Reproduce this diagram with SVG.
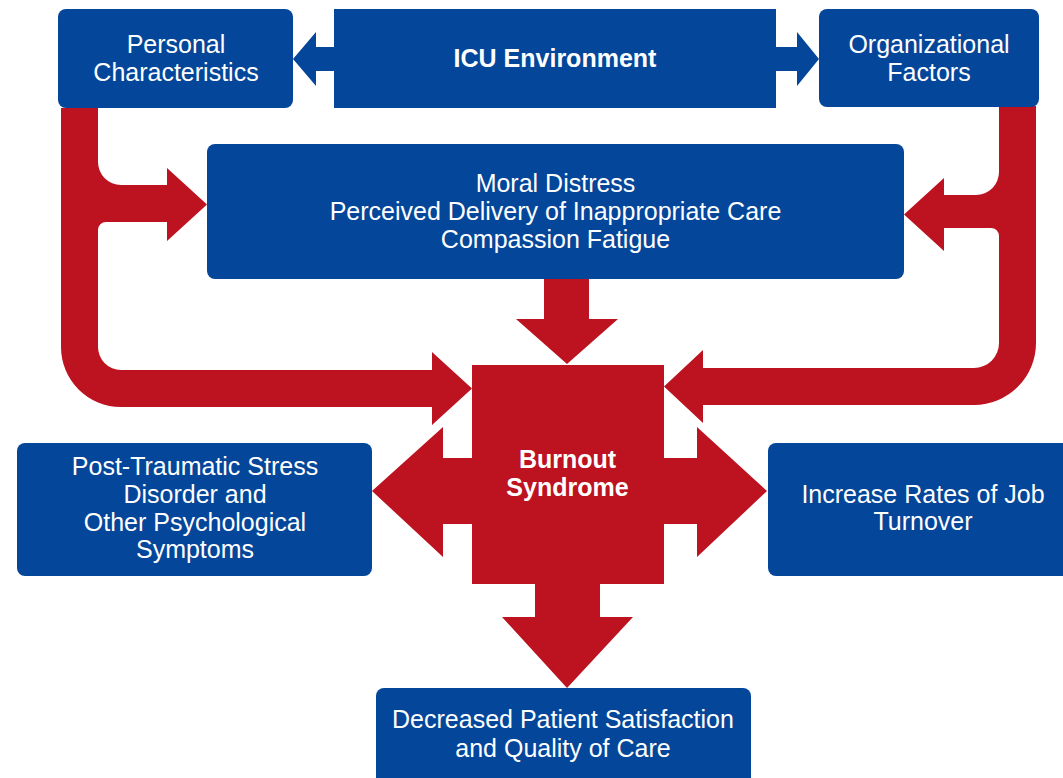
<svg xmlns="http://www.w3.org/2000/svg" width="1063" height="778" viewBox="0 0 1063 778">
<style>
.box{fill:#03469A}
.red{fill:#BD1220}
.t{font-family:"Liberation Sans",Arial,sans-serif;font-size:25px;fill:#FFFFFF;text-anchor:middle}
.b{font-weight:bold}
</style>
<rect width="1063" height="778" fill="#FFFFFF"/>
<g id="connectors">
<polygon class="box" points="334,47 316,47 316,32 293,59 316,86 316,71 334,71"/>
<polygon class="box" points="776,47 797,47 797,32 819,59 797,86 797,71 776,71"/>
<path class="red" d="M61,108 L61,347 A60,60 0 0 0 121,407 L432,407 L432,425 L472,388.5 L432,352 L432,370 L121,370 A23,23 0 0 1 98,347 L98,230 A8,8 0 0 1 106,222 L167,222 L167,241 L207,204.5 L167,168 L167,185 L121,185 A23,23 0 0 1 98,162 L98,108 Z"/>
<path class="red" d="M1036,106 L1036,343 A62,62 0 0 1 974,405 L703,405 L703,423 L664,386.5 L703,350 L703,368 L974,368 A25,25 0 0 0 999,343 L999,236 A8,8 0 0 0 991,228 L944,228 L944,251 L904,214.5 L944,178 L944,195 L976,195 A23,23 0 0 0 999,172 L999,106 Z"/>
<polygon class="red" points="544,279 589,279 589,319 618,319 567,364 516,319 544,319"/>
<polygon class="red" points="472,458 443,458 443,427 372,491 443,557 443,524 472,524"/>
<polygon class="red" points="664,458 697,458 697,427 767,491 697,557 697,524 664,524"/>
<polygon class="red" points="535,584 535,617 502,617 567,688 633,617 600,617 600,584"/>
</g>
<g id="personal">
<rect class="box" x="58" y="9" width="235" height="99" rx="8"/>
<text class="t" x="176" y="53">Personal</text>
<text class="t" x="176" y="81">Characteristics</text>
</g>
<g id="icu">
<rect class="box" x="334" y="9" width="442" height="99"/>
<text class="t b" x="555" y="67">ICU Environment</text>
</g>
<g id="organizational">
<rect class="box" x="819" y="9" width="220" height="98" rx="8"/>
<text class="t" x="929" y="53">Organizational</text>
<text class="t" x="929" y="81">Factors</text>
</g>
<g id="moral">
<rect class="box" x="207" y="144" width="697" height="135" rx="8"/>
<text class="t" x="555.5" y="192">Moral Distress</text>
<text class="t" x="555.5" y="220">Perceived Delivery of Inappropriate Care</text>
<text class="t" x="555.5" y="248">Compassion Fatigue</text>
</g>
<g id="burnout">
<rect class="red" x="472" y="365" width="192" height="219"/>
<text class="t b" x="567.5" y="468">Burnout</text>
<text class="t b" x="567.5" y="496">Syndrome</text>
</g>
<g id="ptsd">
<rect class="box" x="17" y="443" width="355" height="133" rx="8"/>
<text class="t" x="195" y="475">Post-Traumatic Stress</text>
<text class="t" x="195" y="503">Disorder and</text>
<text class="t" x="195" y="531">Other Psychological</text>
<text class="t" x="195" y="558">Symptoms</text>
</g>
<g id="turnover">
<rect class="box" x="768" y="443" width="312" height="133" rx="8"/>
<text class="t" x="923" y="503">Increase Rates of Job</text>
<text class="t" x="923" y="530">Turnover</text>
</g>
<g id="patient">
<rect class="box" x="376" y="688" width="375" height="110" rx="8"/>
<text class="t" x="563" y="728">Decreased Patient Satisfaction</text>
<text class="t" x="563" y="757">and Quality of Care</text>
</g>
</svg>
